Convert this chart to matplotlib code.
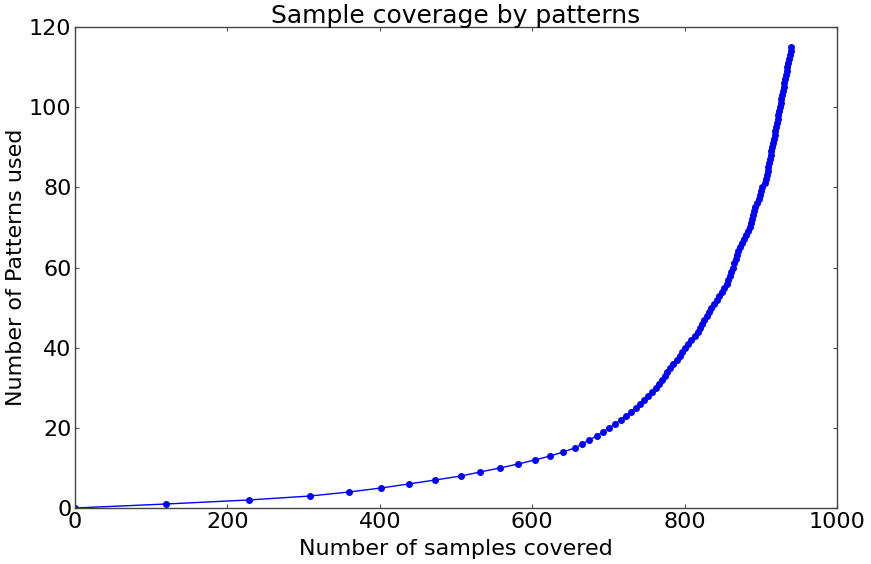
import matplotlib
matplotlib.use("Agg")
import matplotlib.pyplot as plt

# patterns used (y) vs samples covered (x)
patterns = list(range(0, 116))
samples = [0, 120, 228, 309, 360, 402, 438, 473, 507, 532,
           558, 582, 604, 624, 641, 656, 666, 675, 685, 693,
           701, 709, 716, 723, 730, 736, 741, 747, 752, 757,
           762, 766, 770, 774, 777, 781, 785, 790, 794, 797,
           801, 805, 809, 813, 817, 820, 823, 826, 829, 832,
           835, 839, 842, 845, 849, 852, 855, 857, 859, 861,
           863, 865, 867, 869, 870, 873, 875, 878, 880, 883,
           886, 887, 889, 890, 891, 893, 895, 897, 899, 900,
           902, 905, 907, 908, 909, 910, 911, 912, 913, 914,
           915, 916, 917, 918, 919, 920, 921, 922, 923, 924,
           925, 926, 927, 928, 929, 930, 931, 932, 933, 934,
           935, 936, 937, 938, 939, 940]

plt.rcParams["font.family"] = "DejaVu Sans"
plt.rcParams["font.size"] = 16

fig = plt.figure(figsize=(8.71, 5.64), dpi=100)
ax = fig.add_axes([75/871, 1-508/564, (837-75)/871, (508-27)/564])

ax.plot(samples, patterns, color='#0000ff', linewidth=1,
        marker='o', markersize=4, markeredgecolor='#0000ff')

ax.set_xlim(0, 1000)
ax.set_ylim(0, 120)
ax.set_xticks([0, 200, 400, 600, 800, 1000])
ax.set_yticks([0, 20, 40, 60, 80, 100, 120])
ax.tick_params(direction='in', top=True, right=True, length=3, width=0.8,
               color='#555555')
ax.tick_params(axis='x', pad=3)
ax.tick_params(axis='y', pad=2.5)
for s in ax.spines.values():
    s.set_linewidth(1)
    s.set_color('#444444')

ax.set_title("Sample coverage by patterns", fontsize=18, pad=3)
ax.set_xlabel("Number of samples covered", labelpad=5)
ax.set_ylabel("Number of Patterns used", labelpad=2)

fig.savefig("out.png", dpi=100)
